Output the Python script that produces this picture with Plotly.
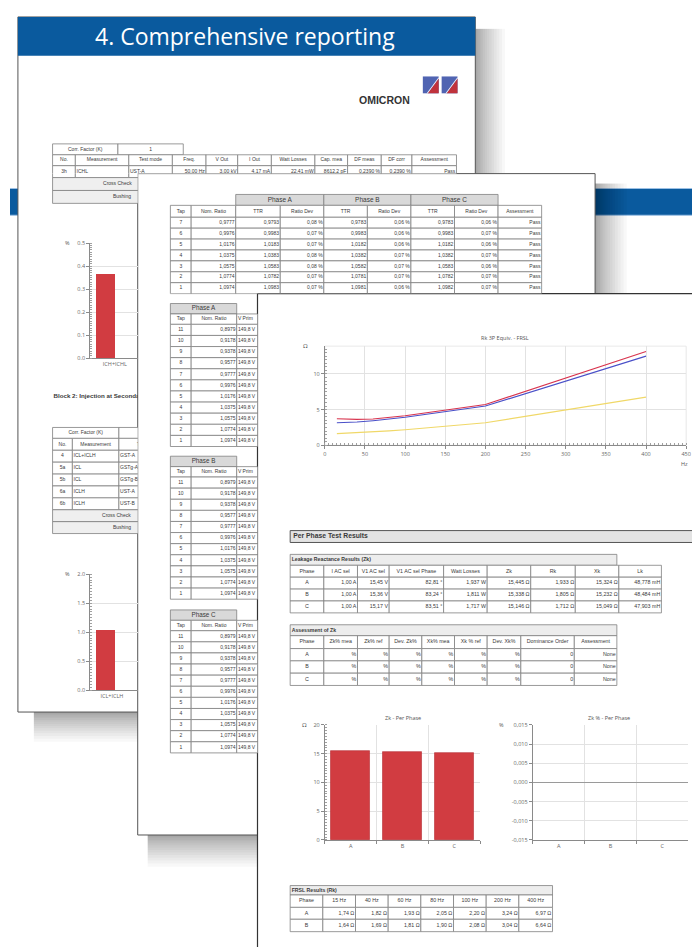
import plotly.graph_objects as go

W, H = 700, 947

# ---------------- data ----------------
banner_title = "4. Comprehensive reporting"
logo_text = "OMICRON"

# page 1, block 1
p1_corr_label = "Corr. Factor (K)"
p1_corr_value = "1"
p1_cols = ["No.", "Measurement", "Test mode", "Freq.", "V Out", "I Out",
           "Watt Losses", "Cap. mea", "DF meas", "DF corr", "Assessment"]
p1_row = ["3h", "ICHL", "UST-A", "50,00 Hz", "3,00 kV", "4,17 mA",
          "22,41 mW", "8612,2 pF", "0,2390 %", "0,2390 %", "Pass"]
p1_check_rows = ["Cross Check", "Bushing"]
p1_bar1_cat = ["ICH+ICHL"]
p1_bar1_val = [0.366]

# page 1, block 2
p1_block2_title = "Block 2: Injection at Secondary"
p1_t2_cols = ["No.", "Measurement", "Test mode"]
p1_t2_no = ["4", "5a", "5b", "6a", "6b"]
p1_t2_meas = ["ICL+ICLH", "ICL", "ICL", "ICLH", "ICLH"]
p1_t2_mode = ["GST-A", "GSTg-A", "GSTg-B", "UST-A", "UST-B"]
p1_bar2_cat = ["ICL+ICLH"]
p1_bar2_val = [1.03]

# page 2, turns ratio table
p2_phases = ["Phase A", "Phase B", "Phase C"]
p2_cols = ["Tap", "Nom. Ratio", "TTR", "Ratio Dev", "TTR", "Ratio Dev",
           "TTR", "Ratio Dev", "Assessment"]
p2_taps = ["7", "6", "5", "4", "3", "2", "1"]
p2_nom = ["0,9777", "0,9976", "1,0176", "1,0375", "1,0575", "1,0774", "1,0974"]
p2_ttr_a = ["0,9793", "0,9983", "1,0183", "1,0383", "1,0583", "1,0782", "1,0983"]
p2_dev_a = ["0,08 %", "0,07 %", "0,07 %", "0,08 %", "0,08 %", "0,07 %", "0,07 %"]
p2_ttr_b = ["0,9783", "0,9983", "1,0182", "1,0382", "1,0582", "1,0781", "1,0981"]
p2_dev_b = ["0,06 %", "0,06 %", "0,06 %", "0,07 %", "0,07 %", "0,07 %", "0,06 %"]
p2_ttr_c = ["0,9783", "0,9983", "1,0182", "1,0382", "1,0583", "1,0782", "1,0982"]
p2_dev_c = ["0,06 %", "0,07 %", "0,06 %", "0,07 %", "0,06 %", "0,07 %", "0,07 %"]
p2_assess = ["Pass"] * 7

# page 2, per-phase tap tables
p2_sub_cols = ["Tap", "Nom. Ratio", "V Prim"]
p2_sub_taps = ["11", "10", "9", "8", "7", "6", "5", "4", "3", "2", "1"]
p2_sub_nom = ["0,8979", "0,9178", "0,9378", "0,9577", "0,9777", "0,9976",
              "1,0176", "1,0375", "1,0575", "1,0774", "1,0974"]
p2_sub_vpri = ["149,8 V"] * 11

# page 3, line chart Rk 3P Equiv. - FRSL
rk_title = "Rk 3P Equiv. - FRSL"
rk_freq = [15, 40, 60, 80, 100, 200, 400]
rk_red = [3.72, 3.63, 3.68, 3.88, 4.15, 5.72, 13.15]
rk_blue = [3.16, 3.26, 3.45, 3.70, 3.93, 5.50, 12.50]
rk_yellow = [1.64, 1.75, 1.88, 2.02, 2.18, 3.16, 6.75]

# page 3 tables
p3_section = "Per Phase Test Results"
lk_title = "Leakage Reactance Results (Zk)"
lk_cols = ["Phase", "I AC sel", "V1 AC sel", "V1 AC sel Phase", "Watt Losses",
           "Zk", "Rk", "Xk", "Lk"]
lk_phase = ["A", "B", "C"]
lk_iac = ["1,00 A", "1,00 A", "1,00 A"]
lk_vac = ["15,45 V", "15,36 V", "15,17 V"]
lk_vph = ["82,81 °", "83,24 °", "83,51 °"]
lk_watt = ["1,937 W", "1,811 W", "1,717 W"]
lk_zk = ["15,445 Ω", "15,338 Ω", "15,146 Ω"]
lk_rk = ["1,933 Ω", "1,805 Ω", "1,712 Ω"]
lk_xk = ["15,324 Ω", "15,232 Ω", "15,049 Ω"]
lk_lk = ["48,778 mH", "48,484 mH", "47,903 mH"]

as_title = "Assessment of Zk"
as_cols = ["Phase", "Zk% mea", "Zk% ref", "Dev. Zk%", "Xk% mea", "Xk % ref",
           "Dev. Xk%", "Dominance Order", "Assessment"]
as_pct = ["%"] * 6
as_order = ["0", "0", "0"]
as_result = ["None", "None", "None"]

zk_title = "Zk - Per Phase"
zk_cat = ["A", "B", "C"]
zk_val = [15.445, 15.338, 15.146]
zkp_title = "Zk % - Per Phase"
zkp_val = [0, 0, 0]
zkp_ticks = [0.015, 0.010, 0.005, 0.0, -0.005, -0.010, -0.015]
zkp_ticktext = ["0,015", "0,010", "0,005", "0,000", "-0,005", "-0,010", "-0,015"]

fr_title = "FRSL Results (Rk)"
fr_cols = ["Phase", "15 Hz", "40 Hz", "60 Hz", "80 Hz", "100 Hz", "200 Hz", "400 Hz"]
fr_a = ["1,74 Ω", "1,82 Ω", "1,93 Ω", "2,05 Ω", "2,20 Ω", "3,24 Ω", "6,97 Ω"]
fr_b = ["1,64 Ω", "1,69 Ω", "1,81 Ω", "1,90 Ω", "2,08 Ω", "3,04 Ω", "6,64 Ω"]

# ---------------- helpers ----------------
BLUE = "#0a5a9e"
RED = "#d13c41"
TXT = "#3a3a3a"
LINE = "#808080"
GRAYFILL = "#d9d9d9"
TFONT = "Liberation Sans, Arial, sans-serif"
CFONT = "Open Sans, Arial, sans-serif"


def fx(x):
    return x / W


def fy(y):
    return 1 - y / H


shapes = []
annotations = []


def prect(x0, y0, x1, y1, fill, lc=None, lw=0):
    shapes.append(dict(type="rect", xref="paper", yref="paper",
                       x0=fx(x0), x1=fx(x1), y0=fy(y1), y1=fy(y0),
                       fillcolor=fill,
                       line=dict(color=lc or "rgba(0,0,0,0)", width=lw),
                       layer="below"))


def ppath(points, fill):
    d = "M " + " L ".join(f"{fx(x):.5f},{fy(y):.5f}" for x, y in points) + " Z"
    shapes.append(dict(type="path", xref="paper", yref="paper", path=d,
                       fillcolor=fill, line=dict(width=0), layer="below"))


def shadow(x0, y0, x1, y1, ox, oy, blur, n=16, alpha=0.027):
    for i in range(n):
        b = blur * ((i + 1) / n) ** 1.6
        prect(x0 + ox, y0 + oy, x1 + b, y1 + b, f"rgba(0,0,0,{alpha})")


def ann(x, y, text, size=6, color="#555", family=CFONT, xanchor="center"):
    annotations.append(dict(x=fx(x), y=fy(y), xref="paper", yref="paper",
                            text=text, showarrow=False, xanchor=xanchor,
                            yanchor="middle",
                            font=dict(size=size, color=color, family=family)))


# clipping regions (visible part of each page), in pixels
regions = {
    "p1a": (8, 44, 470, 163),
    "p1b": (8, 163, 129, 706),
    "p2a": (129, 163, 591, 284),
    "p2b": (129, 284, 250, 830),
    "p3": (250, 284, 700, 947),
}
page_regions = {1: ["p1a", "p1b"], 2: ["p2a", "p2b"], 3: ["p3"]}
reg_sfx = {}
for i, name in enumerate(regions, start=1):
    reg_sfx[name] = "" if i == 1 else str(i)
texts = {name: [] for name in regions}


def add_text(page, x, y, s, pos="c", size=5, color=TXT, bold=False):
    for r in page_regions[page]:
        texts[r].append((x, y, s, pos, size, color, bold))


def cell(page, x0, y0, x1, y1, text="", pos="c", fill="white", size=5,
         bold=False, lc=LINE, lw=0.8, color=TXT):
    for r in page_regions[page]:
        s = reg_sfx[r]
        shapes.append(dict(type="rect", xref="x" + s, yref="y" + s,
                           x0=x0, x1=x1, y0=y0, y1=y1, fillcolor=fill,
                           line=dict(color=lc, width=lw), layer="below"))
    if text != "":
        ym = (y0 + y1) / 2
        if pos == "c":
            xt = (x0 + x1) / 2
        elif pos == "r":
            xt = x1 - 1.2
        else:
            xt = x0 + 1.2
        add_text(page, xt, ym, text, pos, size, color, bold)


def row(page, xs, y0, y1, values, aligns, size=5, fill="white"):
    for j, v in enumerate(values):
        cell(page, xs[j], y0, xs[j + 1], y1, v, aligns[j], fill=fill, size=size)


# ---------------- page backgrounds ----------------
prect(0, 178, 700, 205, BLUE)
prect(0, 177.5, 700, 178.5, "#9cc0e4")
prect(0, 204.5, 700, 205.5, "#9cc0e4")

shadow(8, 5, 470, 706, ox=16, oy=12, blur=30)
prect(8, 5, 470, 706, "white", "#555", 1)
prect(8, 5, 470, 44, BLUE)

# logo
for lx in (417, 436):
    prect(lx, 65, lx + 16, 82, "#5064b2")
    ppath([(lx + 5, 82), (lx + 16, 67), (lx + 16, 82)], "#c0323c")
    ppath([(lx + 4, 82), (lx + 5, 82), (lx + 16, 67), (lx + 16, 65.8)], "white")

shadow(129, 163, 591, 830, ox=10, oy=10, blur=32)
prect(129, 163, 591, 830, "white", "#555", 1)

prect(250, 284, 720, 970, "white", "#333", 1.2)
# light frame of the line chart
prect(318, 337, 683, 437, "rgba(0,0,0,0)", "#e2e2e2", 0.8)

# ---------------- page 1 content ----------------
t1x = [43, 66, 120, 164, 198, 230, 264, 308, 341, 375, 406, 451]
cell(1, 43, 133, 109, 144, p1_corr_label)
cell(1, 109, 133, 175, 144, p1_corr_value)
row(1, t1x, 144, 155, p1_cols, ["c"] * 11)
row(1, t1x, 155, 167, p1_row, ["c", "l", "l"] + ["r"] * 8)
cell(1, 43, 167, 451, 180, fill="#efefef")
cell(1, 43, 180, 451, 193, fill="#efefef")
add_text(1, 94, 173.5, p1_check_rows[0], "l")
add_text(1, 104, 186.5, p1_check_rows[1], "l")

add_text(1, 44, 388, p1_block2_title, "l", size=6.2, bold=True)

t2x = [43, 63, 110, 170]
cell(1, 43, 419, 110, 430, p1_corr_label)
cell(1, 110, 419, 170, 430, "")
row(1, t2x, 430, 442, p1_t2_cols, ["c", "c", "c"])
for k in range(5):
    y0 = 442 + 12 * k
    row(1, t2x, y0, y0 + 12, [p1_t2_no[k], p1_t2_meas[k], p1_t2_mode[k]],
        ["c", "l", "l"])
cell(1, 43, 502, 170, 514, fill="#efefef")
cell(1, 43, 514, 170, 526, fill="#efefef")
add_text(1, 93, 508, p1_check_rows[0], "l")
add_text(1, 104, 520, p1_check_rows[1], "l")

ann(58, 233, "%", size=5.5)
ann(58, 567, "%", size=5.5)

# ---------------- page 2 content ----------------
p2x = [162, 183, 228, 273, 317, 361, 405, 449, 493, 537]
for k, ph in enumerate(p2_phases):
    cell(2, p2x[2 + 2 * k], 184, p2x[4 + 2 * k], 195, ph, fill=GRAYFILL, size=6.5)
row(2, p2x, 195, 207, p2_cols, ["c"] * 9)
for k in range(7):
    y0 = 207 + 11 * k
    vals = [p2_taps[k], p2_nom[k], p2_ttr_a[k], p2_dev_a[k], p2_ttr_b[k],
            p2_dev_b[k], p2_ttr_c[k], p2_dev_c[k], p2_assess[k]]
    row(2, p2x, y0, y0 + 11, vals, ["c"] + ["r"] * 8)

subx = [162, 183, 229, 290]
for k, ph in enumerate(p2_phases):
    top = [294, 448, 603][k]
    cell(2, 162, top, 229, top + 10.5, ph, fill=GRAYFILL, size=6.3)
    row(2, subx, top + 10.5, top + 21, p2_sub_cols, ["c", "c", "l"])
    for m in range(11):
        y0 = top + 21 + 11.2 * m
        row(2, subx, y0, y0 + 11.2,
            [p2_sub_taps[m], p2_sub_nom[m], p2_sub_vpri[m]], ["c", "r", "l"])

# ---------------- page 3 content ----------------
ann(500, 329, rk_title, size=5.5)
ann(298, 337, "Ω", size=6)
ann(681, 456, "Hz", size=5.5)

cell(3, 283, 523, 692, 535, fill="#e3e3e3", lc="#555", lw=1)
add_text(3, 286, 529, p3_section, "l", size=6.8, bold=True)

lkx = [283, 317, 351, 383, 438, 482, 526, 571, 615, 658]
cell(3, 283, 547, 613, 558, fill="#ededed")
add_text(3, 284.5, 552.5, lk_title, "l", size=5.2, bold=True)
row(3, lkx, 558, 570, lk_cols, ["c"] * 9, size=5.3)
for k in range(3):
    y0 = 570 + 12 * k
    vals = [lk_phase[k], lk_iac[k], lk_vac[k], lk_vph[k], lk_watt[k],
            lk_zk[k], lk_rk[k], lk_xk[k], lk_lk[k]]
    row(3, lkx, y0, y0 + 12, vals, ["c"] + ["r"] * 8, size=5.3)

asx = [283, 317, 351, 383, 416, 449, 482, 516, 570, 613]
cell(3, 283, 618, 613, 629, fill="#ededed")
add_text(3, 284.5, 623.5, as_title, "l", size=5.2, bold=True)
row(3, asx, 629, 642, as_cols, ["c"] * 9, size=5.3)
for k in range(3):
    y0 = 642 + 12.4 * k
    vals = [lk_phase[k]] + as_pct + [as_order[k], as_result[k]]
    row(3, asx, y0, y0 + 12.4, vals, ["c"] + ["r"] * 8, size=5.3)

ann(397, 712, zk_title, size=5.5)
ann(605, 712, zkp_title, size=5.5)
ann(297, 719, "Ω", size=6)
ann(496, 719, "%", size=5.5)

frx = [283, 316, 349, 382, 415, 448, 481, 514, 548]
cell(3, 283, 881, 548, 890.5, fill="#ededed")
add_text(3, 284.5, 885.7, fr_title, "l", size=5.2, bold=True)
row(3, frx, 890.5, 903, fr_cols, ["c"] * 8, size=5.3)
row(3, frx, 903, 915, ["A"] + fr_a, ["c"] + ["r"] * 7, size=5.3)
row(3, frx, 915, 927.5, ["B"] + fr_b, ["c"] + ["r"] * 7, size=5.3)

# ---------------- figure ----------------
fig = go.Figure()
layout = {}
posmap = {"c": "middle center", "r": "middle left", "l": "middle right"}

for name, (x0, y0, x1, y1) in regions.items():
    s = reg_sfx[name]
    layout["xaxis" + s] = dict(domain=[fx(x0), fx(x1)], range=[x0, x1],
                               visible=False, fixedrange=True, anchor="y" + s)
    layout["yaxis" + s] = dict(domain=[fy(y1), fy(y0)], range=[y1, y0],
                               visible=False, fixedrange=True, anchor="x" + s)
    items = texts[name]
    fig.add_trace(go.Scatter(
        x=[t[0] for t in items], y=[t[1] for t in items],
        text=[("<b>%s</b>" % t[2]) if t[6] else t[2] for t in items],
        mode="text", textposition=[posmap[t[3]] for t in items],
        textfont=dict(size=[t[4] for t in items], color=[t[5] for t in items],
                      family=TFONT),
        cliponaxis=True, hoverinfo="skip", showlegend=False,
        xaxis="x" + s, yaxis="y" + s))

tickf = dict(family=CFONT, size=5.5, color="#666")
AX = "#8a8a8a"
GRID = "#e2e2e2"


def yax(dom, rng, dtick, minor_dtick, **kw):
    d = dict(domain=[fy(dom[1]), fy(dom[0])], range=rng, dtick=dtick,
             showgrid=True, gridcolor=GRID, gridwidth=0.8, showline=True,
             linecolor=AX, linewidth=1, ticks="outside", ticklen=3,
             tickcolor=AX, tickwidth=0.8, tickfont=tickf, zeroline=False,
             fixedrange=True)
    if minor_dtick:
        d["minor"] = dict(dtick=minor_dtick, ticks="inside", ticklen=2,
                          tickcolor="#a0a0a0", tickwidth=0.6, showgrid=False)
    d.update(kw)
    return d


# page 1 chart 1
fig.add_trace(go.Bar(x=p1_bar1_cat, y=p1_bar1_val, width=0.395, offset=-0.395,
                     marker=dict(color=RED, line=dict(width=0)),
                     xaxis="x6", yaxis="y6", showlegend=False, hoverinfo="skip"))
layout["xaxis6"] = dict(domain=[fx(81), fx(129)], anchor="y6", type="category",
                        range=[-0.52, 0.48], showgrid=False, showline=True,
                        linecolor=AX, linewidth=1, ticks="", tickfont=tickf,
                        fixedrange=True)
layout["yaxis6"] = yax((233, 349), [0, 0.5], 0.1, 0.01, tickformat=".1f",
                       anchor="x6")

# page 1 chart 2
fig.add_trace(go.Bar(x=p1_bar2_cat, y=p1_bar2_val, width=0.396, offset=-0.333,
                     marker=dict(color=RED, line=dict(width=0)),
                     xaxis="x7", yaxis="y7", showlegend=False, hoverinfo="skip"))
layout["xaxis7"] = dict(domain=[fx(81), fx(129)], anchor="y7", type="category",
                        range=[-0.458, 0.542], showgrid=False, showline=True,
                        linecolor=AX, linewidth=1, ticks="", tickfont=tickf,
                        fixedrange=True)
layout["yaxis7"] = yax((567, 684), [0, 2.0], 0.5, 0.05, tickformat=".1f",
                       anchor="x7")

# page 3 line chart
for vals, col in ((rk_yellow, "#f0d868"), (rk_blue, "#4a50c8"),
                  (rk_red, "#d8344e")):
    fig.add_trace(go.Scatter(x=rk_freq, y=vals, mode="lines",
                             line=dict(color=col, width=1.1),
                             xaxis="x8", yaxis="y8", showlegend=False,
                             hoverinfo="skip"))
layout["xaxis8"] = dict(domain=[fx(318), fx(683)], anchor="y8", range=[0, 450],
                        dtick=50, showgrid=True, gridcolor=GRID, gridwidth=0.8,
                        showline=True, linecolor=AX, linewidth=1,
                        ticks="outside", ticklen=3, tickcolor=AX, tickwidth=0.8,
                        tickfont=tickf, zeroline=False, fixedrange=True,
                        minor=dict(dtick=5, ticks="inside", ticklen=2,
                                   tickcolor="#a0a0a0", tickwidth=0.6,
                                   showgrid=False))
layout["yaxis8"] = yax((337, 437), [0, 13.9], 5, 0.5, anchor="x8")

# page 3 Zk bar chart
fig.add_trace(go.Bar(x=zk_cat, y=zk_val, width=0.75,
                     marker=dict(color=RED, line=dict(color="#b32a30", width=0.6)),
                     xaxis="x9", yaxis="y9", showlegend=False, hoverinfo="skip"))
catx = dict(type="category", range=[-0.5, 2.5], tickson="boundaries",
            ticks="outside", ticklen=3, tickcolor=AX, tickwidth=0.8,
            showgrid=True, gridcolor=GRID, gridwidth=0.8, showline=True,
            linecolor=AX, linewidth=1, tickfont=tickf, fixedrange=True)
layout["xaxis9"] = dict(domain=[fx(318), fx(475)], anchor="y9", **catx)
layout["yaxis9"] = yax((719, 835), [0, 20], 5, 0.5, anchor="x9")

# page 3 Zk % chart (no deviation values)
fig.add_trace(go.Bar(x=zk_cat, y=zkp_val, width=0.75,
                     marker=dict(color=RED, line=dict(width=0)),
                     xaxis="x10", yaxis="y10", showlegend=False, hoverinfo="skip"))
layout["xaxis10"] = dict(domain=[fx(528), fx(685)], anchor="y10", **catx)
layout["yaxis10"] = yax((719, 835), [-0.015, 0.015], None, None, anchor="x10",
                        tickvals=zkp_ticks, ticktext=zkp_ticktext,
                        zeroline=True, zerolinecolor="#9a9a9a",
                        zerolinewidth=1)
del layout["yaxis10"]["dtick"]

# banner & logo text
ann(237, 24, banner_title, size=23, color="white", family=CFONT)
ann(378, 89, "<b>%s</b>" % logo_text, size=10.5, color="#333",
    family="Liberation Sans, Arial, sans-serif")

fig.update_layout(width=W, height=H, margin=dict(l=0, r=0, t=0, b=0),
                  paper_bgcolor="white", plot_bgcolor="rgba(0,0,0,0)",
                  showlegend=False, shapes=shapes, annotations=annotations,
                  bargap=0, **layout)
fig.write_html("out.html")
